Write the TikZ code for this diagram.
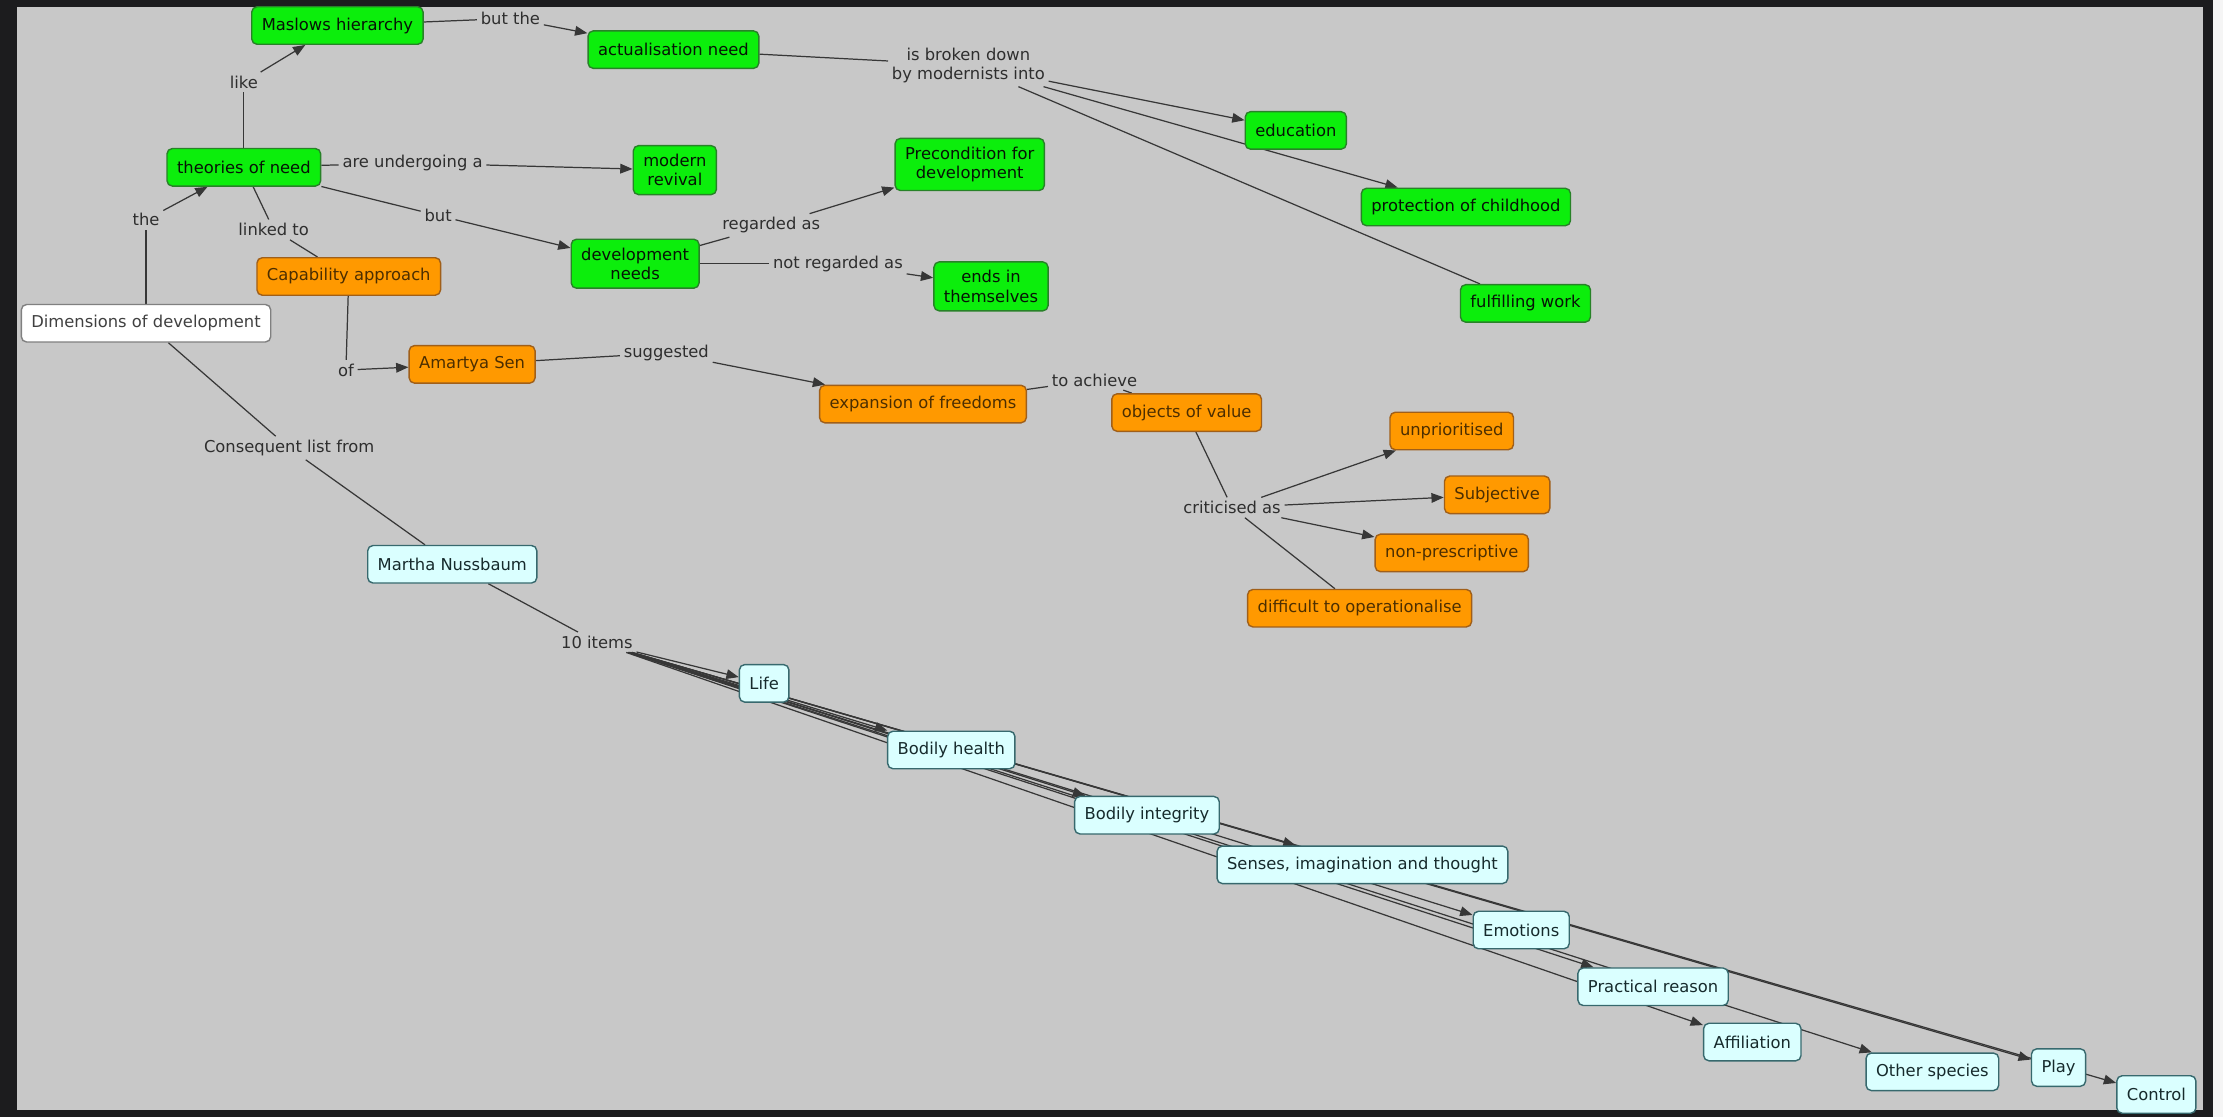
\documentclass[tikz,border=0pt]{standalone}
\usepackage{fontspec}
\setmainfont{DejaVu Sans}
\usepackage{tikz}
\usetikzlibrary{arrows.meta,backgrounds}
\definecolor{mapgrey}{RGB}{200,200,200}
\definecolor{framedark}{RGB}{28,28,30}
\definecolor{needgreen}{RGB}{12,238,12}
\definecolor{neededge}{RGB}{40,130,40}
\definecolor{capaorange}{RGB}{255,153,0}
\definecolor{capaedge}{RGB}{160,95,25}
\definecolor{listcyan}{RGB}{218,255,255}
\definecolor{listedge}{RGB}{55,105,110}
\definecolor{linkgrey}{RGB}{55,55,55}

\begin{document}
\begin{tikzpicture}[x=0.02835cm, y=-0.02835cm,
    every node/.style={font=\fontsize{9.3}{11}\selectfont},
    concept/.style={rounded corners=3pt, line width=0.8pt, inner xsep=0.2cm, inner ysep=0.17cm, minimum height=0.75cm, align=center},
    need/.style={concept, fill=needgreen, draw=neededge, text=black!85!neededge},
    capa/.style={concept, fill=capaorange, draw=capaedge, text=black!70!capaorange},
    item/.style={concept, fill=listcyan, draw=listedge, text=black!60!listedge},
    root/.style={concept, fill=white, draw=gray, text=black!75},
    phrase/.style={text=black!82, inner sep=2pt, align=center},
    link/.style={draw=linkgrey, line width=0.7pt},
    arr/.style={link, -{Triangle[length=7pt,width=5.5pt]}}]
    \useasboundingbox (0,0) rectangle (1568,788);

    \node[need] (maslow) at (238,18) {Maslows hierarchy};
    \node[need] (actual) at (475,35) {actualisation need};
    \node[need] (theories) at (172,118) {theories of need};
    \node[need] (revival) at (476,120) {modern\\revival};
    \node[need] (precond) at (684,116) {Precondition for\\development};
    \node[need] (devneeds) at (448,186) {development\\needs};
    \node[need] (ends) at (699,202) {ends in\\themselves};
    \node[need] (education) at (914,92) {education};
    \node[need] (childhood) at (1034,146) {protection of childhood};
    \node[need] (work) at (1076,214) {fulfilling work};

    \node[root] (dims) at (103,228) {Dimensions of development};

    \node[capa] (capability) at (246,195) {Capability approach};
    \node[capa] (sen) at (333,257) {Amartya Sen};
    \node[capa] (freedoms) at (651,285) {expansion of freedoms};
    \node[capa] (objects) at (837,291) {objects of value};
    \node[capa] (unprio) at (1024,304) {unprioritised};
    \node[capa] (subjective) at (1056,349) {Subjective};
    \node[capa] (nonpres) at (1024,390) {non-prescriptive};
    \node[capa] (difficult) at (959,429) {difficult to operationalise};

    \node[item] (nussbaum) at (319,398) {Martha Nussbaum};
    \node[item] (life) at (539,482) {Life};
    \node[item] (health) at (671,529) {Bodily health};
    \node[item] (integrity) at (809,575) {Bodily integrity};
    \node[item] (senses) at (961,610) {Senses, imagination and thought};
    \node[item] (emotions) at (1073,656) {Emotions};
    \node[item] (reason) at (1166,696) {Practical reason};
    \node[item] (affiliation) at (1236,735) {Affiliation};
    \node[item] (species) at (1363,756) {Other species};
    \node[item] (play) at (1452,753) {Play};
    \node[item] (control) at (1521,772) {Control};

    \node[phrase] (like) at (172,58) {like};
    \node[phrase] (butthe) at (360,13) {but the};
    \node[phrase] (thelink) at (103,155) {the};
    \node[phrase] (linked) at (193,162) {linked to};
    \node[phrase] (undergoing) at (291,115) {are undergoing a};
    \node[phrase] (but) at (309,152) {but};
    \node[phrase] (regarded) at (544,159) {regarded as};
    \node[phrase] (notregarded) at (591,186) {not regarded as};
    \node[phrase] (broken) at (683,46) {is broken down\\by modernists into};
    \node[phrase] (ofsen) at (244,261) {of};
    \node[phrase] (suggested) at (470,249) {suggested};
    \node[phrase] (achieve) at (772,268) {to achieve};
    \node[phrase] (criticised) at (869,358) {criticised as};
    \node[phrase] (consequent) at (204,316) {Consequent list from};
    \node[phrase] (items) at (421,453) {10 items};

    \begin{scope}[on background layer]
        \fill[gray!8] (0,0) rectangle (1568,788);
        \fill[framedark] (0,0) rectangle (1561,788);
        \fill[mapgrey] (12,5) rectangle (1554,783);

        \draw[link] (theories) -- (like);
        \draw[arr] (like) -- (maslow);
        \draw[link] (maslow) -- (butthe);
        \draw[arr] (butthe) -- (actual);
        \draw[link] (dims) -- (thelink);
        \draw[arr] (thelink) -- (theories);
        \draw[link] (theories) -- (linked);
        \draw[link] (linked) -- (capability);
        \draw[link] (theories) -- (undergoing);
        \draw[arr] (undergoing) -- (revival);
        \draw[link] (theories) -- (but);
        \draw[arr] (but) -- (devneeds);
        \draw[link] (devneeds) -- (regarded);
        \draw[arr] (regarded) -- (precond);
        \draw[link] (devneeds) -- (notregarded);
        \draw[arr] (notregarded) -- (ends);
        \draw[link] (actual) -- (broken);
        \draw[arr] (broken) -- (education);
        \draw[arr] (broken) -- (childhood);
        \draw[link] (broken) -- (work);

        \draw[link] (capability) -- (ofsen);
        \draw[arr] (ofsen) -- (sen);
        \draw[link] (sen) -- (suggested);
        \draw[arr] (suggested) -- (freedoms);
        \draw[link] (freedoms) -- (achieve);
        \draw[link] (achieve) -- (objects);
        \draw[link] (objects) -- (criticised);
        \foreach \crit in {unprio,subjective,nonpres}
            \draw[arr] (criticised) -- (\crit);
        \draw[link] (criticised) -- (difficult);

        \draw[link] (dims) -- (consequent);
        \draw[link] (consequent) -- (nussbaum);
        \draw[link] (nussbaum) -- (items);
        \foreach \entry in {life,health,integrity,senses,emotions,reason,affiliation,species,play,control}
            \draw[arr] (items) -- (\entry);
    \end{scope}
\end{tikzpicture}
\end{document}
